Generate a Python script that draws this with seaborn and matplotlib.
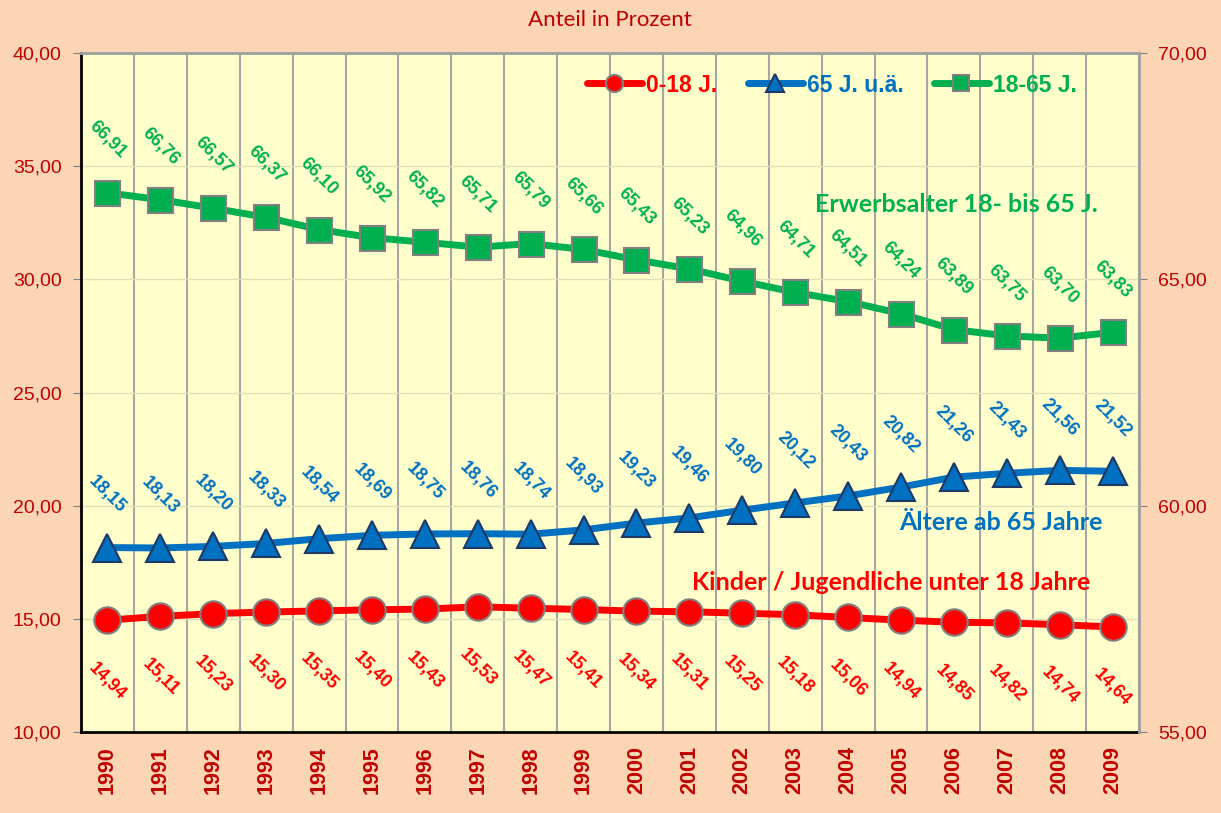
import matplotlib
matplotlib.use('Agg')
import matplotlib.pyplot as plt
import seaborn as sns
import numpy as np

# Data
years = [str(y) for y in range(1990, 2010)]
kinder = [14.94, 15.11, 15.23, 15.30, 15.35, 15.40, 15.43, 15.53, 15.47, 15.41,
          15.34, 15.31, 15.25, 15.18, 15.06, 14.94, 14.85, 14.82, 14.74, 14.64]
aeltere = [18.15, 18.13, 18.20, 18.33, 18.54, 18.69, 18.75, 18.76, 18.74, 18.93,
           19.23, 19.46, 19.80, 20.12, 20.43, 20.82, 21.26, 21.43, 21.56, 21.52]
erwerb = [66.91, 66.76, 66.57, 66.37, 66.10, 65.92, 65.82, 65.71, 65.79, 65.66,
          65.43, 65.23, 64.96, 64.71, 64.51, 64.24, 63.89, 63.75, 63.70, 63.83]
left_ticks = [10, 15, 20, 25, 30, 35, 40]
right_ticks = [55, 60, 65, 70]

RED = '#FF0000'
BLUE = '#0070C0'
GREEN = '#00B050'
DARKRED = '#C00000'

sns.set_style('white')
plt.rcParams['font.family'] = ['Liberation Sans', 'DejaVu Sans']

fig, ax = plt.subplots(figsize=(12.21, 8.13), dpi=100)
fig.patch.set_facecolor('#FCD5B5')
fig.subplots_adjust(left=81/1221, right=1139/1221, top=1-53/813, bottom=1-732/813)
ax.set_facecolor('#FFFFCC')
ax2 = ax.twinx()

x = np.arange(len(years))

sns.lineplot(x=x, y=kinder, ax=ax, color=RED, linewidth=5, marker='o', markersize=19,
             markeredgecolor='#808080', markeredgewidth=1.5, legend=False)
sns.lineplot(x=x, y=aeltere, ax=ax, color=BLUE, linewidth=5, marker='^', markersize=20,
             markeredgecolor='#1F3864', markeredgewidth=1.5, legend=False)
sns.lineplot(x=x, y=erwerb, ax=ax2, color=GREEN, linewidth=5, marker='s', markersize=18,
             markeredgecolor='#808080', markeredgewidth=1.5, legend=False)

# data labels
def fmt(v):
    return f'{v:.2f}'.replace('.', ',')

for xi, v in zip(x, kinder):
    ax.annotate(fmt(v), (xi, v), xytext=(0, -44), textcoords='offset points',
                ha='center', va='center', rotation=-45, color=RED, fontsize=13, fontweight='bold')
for xi, v in zip(x, aeltere):
    ax.annotate(fmt(v), (xi, v), xytext=(0, 38), textcoords='offset points',
                ha='center', va='center', rotation=-45, color=BLUE, fontsize=13, fontweight='bold')
for xi, v in zip(x, erwerb):
    ax2.annotate(fmt(v), (xi, v), xytext=(0, 38), textcoords='offset points',
                 ha='center', va='center', rotation=-45, color=GREEN, fontsize=13, fontweight='bold')

# axes
ax.set_xlim(-0.5, len(years) - 0.5)
ax.set_ylim(10, 40)
ax2.set_ylim(55, 70)
ax.set_yticks(left_ticks)
ax.set_yticklabels([fmt(t) for t in left_ticks], color=DARKRED, fontsize=14)
ax2.set_yticks(right_ticks)
ax2.set_yticklabels([fmt(t) for t in right_ticks], color=DARKRED, fontsize=14)
ax.set_xticks(x)
ax.set_xticklabels(years, rotation=90, color=DARKRED, fontsize=15.5, fontweight='bold')
ax.set_xticks(np.arange(len(years) + 1) - 0.5, minor=True)
ax.tick_params(axis='x', which='major', length=0, pad=10)
ax.tick_params(axis='x', which='minor', length=6, color='#808080')
ax.tick_params(axis='y', length=6, color='#808080', pad=8)
ax2.tick_params(axis='y', length=6, color='#808080', pad=8)

ax.grid(True, which='minor', axis='x', color='#A6A6A6', linewidth=1.5)
ax.grid(True, which='major', axis='y', color='#E0E0B8', linewidth=1)
ax.set_axisbelow(True)
ax2.grid(False)

for s in ['left', 'bottom']:
    ax.spines[s].set_color('black')
    ax.spines[s].set_linewidth(2)
for s in ['top', 'right']:
    ax2.spines[s].set_color('#A0A0A0')
    ax2.spines[s].set_linewidth(2)
ax2.spines['left'].set_visible(False)
ax2.spines['bottom'].set_visible(False)

# legend
h_r = ax.get_lines()[0]
h_b = ax.get_lines()[1]
h_g = ax2.get_lines()[0]
leg = ax2.legend([h_r, h_b, h_g], ['0-18 J.', '65 J. u.ä.', '18-65 J.'], loc='center',
                 bbox_to_anchor=((832 - 81) / 1058, (732 - 85) / 679), ncol=3, frameon=False,
                 markerscale=0.65, handlelength=2.4, handletextpad=0.2, columnspacing=1.3,
                 labelcolor='linecolor', prop={'weight': 'bold', 'size': 16.5})

# annotations
fig.text(956 / 1221, 1 - 205 / 813, 'Erwerbsalter 18- bis 65 J.', color=GREEN,
         fontsize=18, fontweight='bold', family=['Lato', 'DejaVu Sans'], ha='center', va='center')
fig.text(1001 / 1221, 1 - 522 / 813, 'Ältere ab 65 Jahre', color=BLUE,
         fontsize=18, fontweight='bold', family=['Lato', 'DejaVu Sans'], ha='center', va='center')
fig.text(891 / 1221, 1 - 583 / 813, 'Kinder / Jugendliche unter 18 Jahre', color=RED,
         fontsize=18, fontweight='bold', family=['Lato', 'DejaVu Sans'], ha='center', va='center')
fig.text(610 / 1221, 1 - 20 / 813, 'Anteil in Prozent', color=DARKRED,
         fontsize=16, family=['Lato', 'DejaVu Sans'], ha='center', va='center')

fig.savefig('out.png', dpi=100, facecolor=fig.get_facecolor())
